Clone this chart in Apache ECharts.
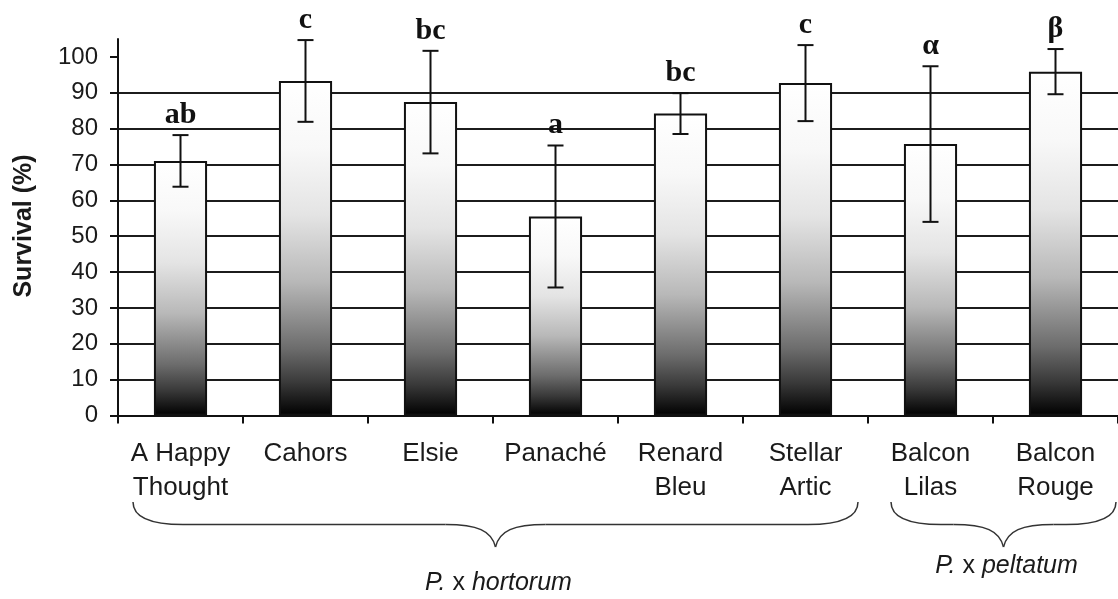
<!DOCTYPE html>
<html>
<head>
<meta charset="utf-8">
<script src="https://cdn.jsdelivr.net/npm/echarts@6/dist/echarts.min.js"></script>
<style>
  html, body { margin: 0; padding: 0; background: #ffffff; }
  #chart { width: 1118px; height: 599px; }
</style>
</head>
<body>
<div id="chart"></div>
<script>
// Cultivars and their mean survival (%) with standard deviation
const cultivars = ['A Happy\nThought', 'Cahors', 'Elsie', 'Panaché', 'Renard\nBleu', 'Stellar\nArtic', 'Balcon\nLilas', 'Balcon\nRouge'];
const survival = [71.0, 93.3, 87.4, 55.5, 84.2, 92.7, 75.7, 95.9];
const deviation = [7.2, 11.4, 14.3, 19.8, 5.7, 10.6, 21.7, 6.3];
// Significance groups (Latin letters within P. x hortorum, Greek within P. x peltatum)
const letters = ['ab', 'c', 'bc', 'a', 'bc', 'c', 'α', 'β'];
const yTicks = [0, 10, 20, 30, 40, 50, 60, 70, 80, 90, 100];
// Species groups: first and last cultivar index of each
const groupNames = ['hortorum', 'peltatum'];
const groupFirst = [0, 6];
const groupLast = [5, 7];

const chart = echarts.init(document.getElementById('chart'), null, { renderer: 'canvas' });

const barFill = new echarts.graphic.LinearGradient(0, 0, 0, 1, [
  { offset: 0, color: '#ffffff' },
  { offset: 0.2, color: '#f8f8f8' },
  { offset: 0.4, color: '#e4e4e4' },
  { offset: 0.6, color: '#b8b8b8' },
  { offset: 0.8, color: '#6c6c6c' },
  { offset: 0.9, color: '#3a3a3a' },
  { offset: 1, color: '#000000' }
]);

const ink = '#111111';
const errorData = cultivars.map((c, i) => [i, survival[i] - deviation[i], survival[i] + deviation[i]]);

const option = {
  animation: false,
  backgroundColor: '#ffffff',
  grid: { left: 118, right: 0, top: 39, bottom: 183.5, containLabel: false },
  xAxis: {
    type: 'category',
    data: cultivars,
    axisLine: { show: true, lineStyle: { color: ink, width: 2 } },
    axisTick: { show: true, length: 8, lineStyle: { color: ink, width: 2 } },
    axisLabel: {
      interval: 0,
      color: '#1a1a1a',
      fontFamily: 'Liberation Sans',
      fontSize: 26,
      lineHeight: 34,
      margin: 21
    },
    splitLine: { show: false }
  },
  yAxis: {
    type: 'value',
    min: 0,
    max: 105,
    interval: 10,
    axisLine: { show: true, lineStyle: { color: ink, width: 2 } },
    axisTick: { show: true, length: 8, customValues: yTicks, lineStyle: { color: ink, width: 2 } },
    axisLabel: {
      customValues: yTicks,
      color: '#1a1a1a',
      fontFamily: 'Liberation Sans',
      fontSize: 24,
      margin: 20
    },
    splitLine: { show: true, showMaxLine: false, lineStyle: { color: '#1c1c1c', width: 2 } }
  },
  series: [
    {
      type: 'bar',
      data: survival,
      barWidth: '42.5%',
      itemStyle: { color: barFill, borderColor: ink, borderWidth: 2 },
      z: 2
    },
    {
      type: 'custom',
      data: errorData,
      z: 3,
      renderItem: function (params, api) {
        const idx = api.value(0);
        const lo = api.coord([idx, api.value(1)]);
        const hi = api.coord([idx, api.value(2)]);
        const half = 8;
        const stroke = { stroke: ink, lineWidth: 2 };
        return {
          type: 'group',
          children: [
            { type: 'line', shape: { x1: lo[0], y1: lo[1], x2: hi[0], y2: hi[1] }, style: stroke },
            { type: 'line', shape: { x1: lo[0] - half, y1: lo[1], x2: lo[0] + half, y2: lo[1] }, style: stroke },
            { type: 'line', shape: { x1: hi[0] - half, y1: hi[1], x2: hi[0] + half, y2: hi[1] }, style: stroke },
            {
              type: 'text',
              style: {
                text: letters[params.dataIndex],
                x: hi[0],
                y: hi[1] - 5,
                align: 'center',
                verticalAlign: 'bottom',
                font: 'bold 30px "Liberation Serif"',
                fill: ink
              }
            }
          ]
        };
      }
    }
  ]
};

chart.setOption(option);

// Curly brace under a species' cultivars, built from curves and straight runs
function braceParts(x0, x1, yTop, yMid, yTip) {
  const cx = (x0 + x1) / 2;
  const style = { fill: 'none', stroke: '#333333', lineWidth: 1.5 };
  const curve = (a, b, c1, c2) => ({
    type: 'bezierCurve',
    shape: { x1: a[0], y1: a[1], x2: b[0], y2: b[1], cpx1: c1[0], cpy1: c1[1], cpx2: c2[0], cpy2: c2[1] },
    style: style
  });
  const line = (a, b) => ({ type: 'line', shape: { x1: a[0], y1: a[1], x2: b[0], y2: b[1] }, style: style });
  return [
    curve([x0, yTop], [x0 + 50, yMid], [x0, yTop + 16], [x0 + 18, yMid]),
    line([x0 + 50, yMid], [cx - 50, yMid]),
    curve([cx - 50, yMid], [cx, yTip], [cx - 18, yMid], [cx - 4, yMid + 6]),
    curve([cx, yTip], [cx + 50, yMid], [cx + 4, yMid + 6], [cx + 18, yMid]),
    line([cx + 50, yMid], [x1 - 50, yMid]),
    curve([x1 - 50, yMid], [x1, yTop], [x1 - 18, yMid], [x1, yTop + 16])
  ];
}

const c0 = chart.convertToPixel({ xAxisIndex: 0 }, 0);
const c1 = chart.convertToPixel({ xAxisIndex: 0 }, 1);
const band = c1 - c0;
const edgeLeft = (i) => chart.convertToPixel({ xAxisIndex: 0 }, i) - band / 2;
const edgeRight = (i) => chart.convertToPixel({ xAxisIndex: 0 }, i) + band / 2;

const braceStart = [edgeLeft(groupFirst[0]) + 15, edgeLeft(groupFirst[1]) + 23];
const braceEnd = [edgeRight(groupLast[0]) - 10, edgeRight(groupLast[1]) - 2];
const labelY = [583, 566];

const graphics = [];
groupNames.forEach((name, g) => {
  const x0 = braceStart[g];
  const x1 = braceEnd[g];
  graphics.push({ type: 'group', children: braceParts(x0, x1, 502, 524.5, 547) });
  graphics.push({
    type: 'text',
    x: (x0 + x1) / 2 + 3,
    y: labelY[g],
    style: {
      text: '{i|P.} x {i|' + name + '}',
      align: 'center',
      verticalAlign: 'middle',
      fontFamily: 'Liberation Sans',
      fontSize: 25,
      fill: '#1a1a1a',
      rich: {
        i: { fontStyle: 'italic', fontFamily: 'Liberation Sans', fontSize: 25, fill: '#1a1a1a' }
      }
    }
  });
});

// Vertical axis title
graphics.push({
  type: 'text',
  x: 24,
  y: 226,
  rotation: Math.PI / 2,
  style: {
    text: 'Survival (%)',
    align: 'center',
    verticalAlign: 'middle',
    font: 'bold 25px "Liberation Sans"',
    fill: '#1a1a1a'
  }
});

chart.setOption({ graphic: graphics });
</script>
</body>
</html>
